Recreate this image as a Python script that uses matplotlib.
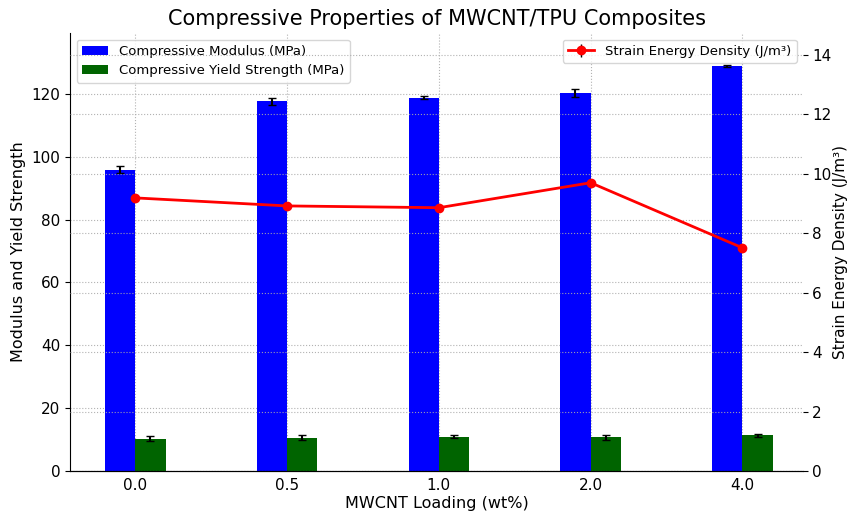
import matplotlib
matplotlib.use('Agg')
import matplotlib.pyplot as plt
import numpy as np

# Data
loadings = ['0.0', '0.5', '1.0', '2.0', '4.0']
modulus = [95.9, 117.6, 118.8, 120.3, 128.9]
modulus_err = [1.2, 1.0, 0.5, 1.2, 0.3]
yield_strength = [10.2, 10.6, 10.9, 10.7, 11.4]
yield_err = [0.8, 0.8, 0.5, 0.7, 0.5]
energy_density = [9.19, 8.92, 8.86, 9.70, 7.51]
energy_err = [0.08, 0.06, 0.06, 0.1, 0.06]

x = np.arange(len(loadings))
width = 0.2

fig = plt.figure(figsize=(8.49, 5.15), dpi=100)
ax1 = fig.add_axes([0.0825, 0.0854, 0.8635, 0.8506])

ax1.bar(x - width / 2, modulus, width, yerr=modulus_err, capsize=3,
        color='blue', label='Compressive Modulus (MPa)')
ax1.bar(x + width / 2, yield_strength, width, yerr=yield_err, capsize=3,
        color='darkgreen', label='Compressive Yield Strength (MPa)')
ax1.set_xticks(x)
ax1.set_xticklabels(loadings)
ax1.set_xlim(-0.43, 4.4)
ax1.set_ylim(0, 139.4)
ax1.set_xlabel('MWCNT Loading (wt%)', fontsize=11.5, labelpad=2)
ax1.set_ylabel('Modulus and Yield Strength', fontsize=11.5)
ax1.tick_params(labelsize=11)
ax1.tick_params(axis='x', length=0, pad=5)
ax1.grid(True, linestyle=':', color='#aaaaaa', alpha=0.9)
ax1.set_axisbelow(True)
ax1.spines['top'].set_visible(False)
ax1.spines['right'].set_visible(False)
ax1.legend(loc='upper left', fontsize=9.5)

ax2 = ax1.twinx()
ax2.errorbar(x, energy_density, yerr=energy_err, color='red', marker='o',
             markersize=6, linewidth=2, ecolor='black', elinewidth=1,
             label='Strain Energy Density (J/m³)')
ax2.set_ylim(0, 14.74)
ax2.set_ylabel('Strain Energy Density (J/m³)', fontsize=11, labelpad=1)
ax2.tick_params(labelsize=11, pad=3)
ax2.grid(True, linestyle=':', color='#aaaaaa', alpha=0.9)
for s in ['top', 'right', 'left']:
    ax2.spines[s].set_visible(False)
ax2.legend(loc='upper right', fontsize=9.5)

ax1.set_title('Compressive Properties of MWCNT/TPU Composites', fontsize=15)

fig.savefig('out.png', dpi=100)
